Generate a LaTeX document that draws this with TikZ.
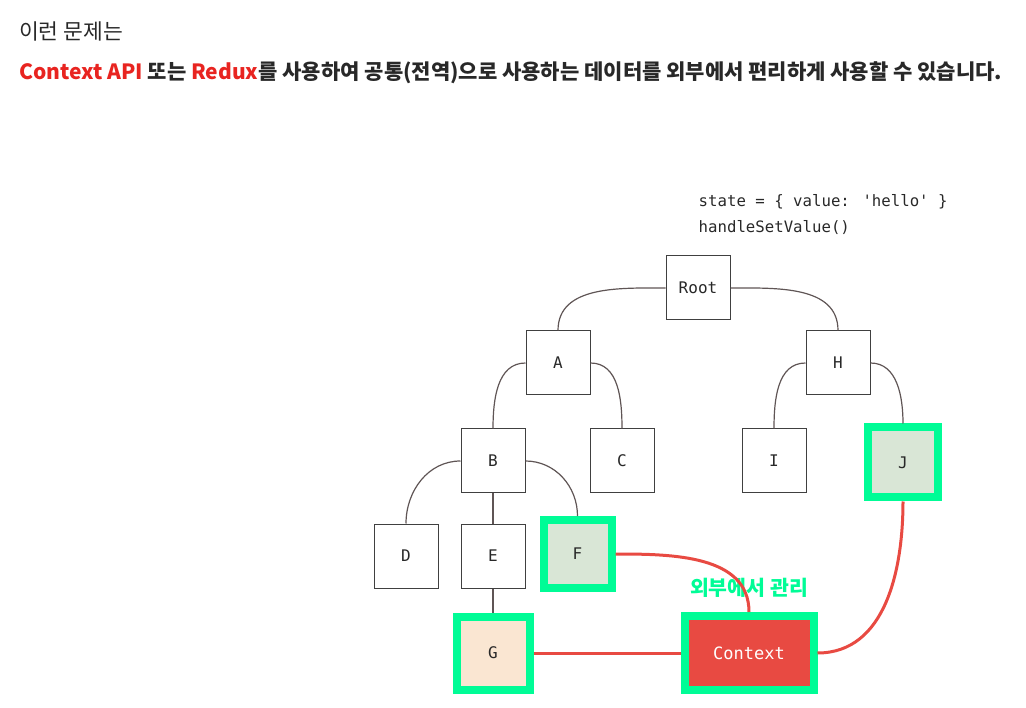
\documentclass[tikz,border=0pt]{standalone}
\usepackage{fontspec}
\setmainfont{Noto Sans CJK KR}
\newfontfamily\codefont{DejaVu Sans Mono}
\usetikzlibrary{positioning}

\definecolor{hlgreen}{RGB}{0,252,150}
\definecolor{ctxred}{RGB}{232,74,66}
\definecolor{titlered}{RGB}{232,36,32}
\definecolor{linkgray}{RGB}{95,85,85}
\definecolor{softgreen}{RGB}{217,230,214}
\definecolor{softorange}{RGB}{250,230,210}
\definecolor{inkgray}{RGB}{40,40,40}

\begin{document}
\begin{tikzpicture}[
  x=1pt, y=1pt,
  treebox/.style={draw=black!75, line width=1pt, minimum size=64pt, inner sep=0pt, fill=white, text=inkgray, font=\codefont\fontsize{16}{18}\selectfont},
  marked/.style={treebox, draw=hlgreen, line width=8pt, minimum size=68pt, fill=softgreen},
  link/.style={draw=linkgray, line width=1.2pt},
  redlink/.style={draw=ctxred, line width=3pt}
]
\useasboundingbox (0,0) rectangle (1026,-708);
% heading
\node[anchor=west, inner sep=0pt, text=inkgray, font=\fontsize{21.5}{24}\selectfont] (intro) at (19,-31) {이런 문제는};
\node[anchor=west, inner sep=0pt, text=inkgray, font=\bfseries\fontsize{21}{24}\selectfont] (lead) at (19,-73)
  {\textcolor{titlered}{Context API} 또는 \textcolor{titlered}{Redux}를 사용하여 공통(전역)으로 사용하는 데이터를 외부에서 편리하게 사용할 수 있습니다.};
% tree
\node[treebox] (Root) at (698,-288) {Root};
\node[inner sep=0pt, align=left, text=inkgray, font=\codefont\fontsize{15.7}{26}\selectfont, above=21pt of Root.north west, anchor=south west, xshift=33pt] (state)
  {state = \{ value: 'hello' \}\\handleSetValue()};
\node[treebox, below left=10pt and 75pt of Root] (A) {A};
\node[treebox, below right=10pt and 75pt of Root] (H) {H};
\node[treebox, below=33pt of A, xshift=-65pt] (B) {B};
\node[treebox, below=33pt of A, xshift=64pt] (C) {C};
\node[treebox, below=33pt of H, xshift=-64pt] (I) {I};
\node[marked, minimum size=70pt, below=28pt of H, xshift=65pt] (J) {J};
\node[treebox, below=30pt of B] (E) {E};
\node[treebox, left=22pt of E] (D) {D};
\node[marked, right=14pt of E, yshift=2pt] (F) {F};
\node[marked, minimum size=73pt, fill=softorange, below=24pt of E] (G) {G};
\node[marked, minimum width=129pt, minimum height=74pt, fill=ctxred, text=white, font=\codefont\fontsize{17}{18}\selectfont, right=147pt of G] (Context) {Context};
\node[text=hlgreen, inner sep=0pt, font=\bfseries\fontsize{20.5}{22}\selectfont, above=14pt of Context] (outside) {외부에서 관리};

\draw[link] (Root.west) to[out=180, in=90] (A.north);
\draw[link] (Root.east) to[out=0, in=90] (H.north);
\draw[link] (A.west) to[out=180, in=90] (B.north);
\draw[link] (A.east) to[out=0, in=90] (C.north);
\draw[link] (H.west) to[out=180, in=90] (I.north);
\draw[link] (H.east) to[out=0, in=90] (J.north);
\draw[link] (B.west) to[out=180, in=90] (D.north);
\draw[link] (B.east) to[out=0, in=90] (F.north);
\draw[link] (B) -- (E);
\draw[link] (E) -- (G);
\draw[redlink] (F.east) to[out=0, in=90] (Context.north);
\draw[redlink] (G) -- (Context);
\draw[redlink] (J.south) to[out=-90, in=0] (Context.east);
\end{tikzpicture}
\end{document}
